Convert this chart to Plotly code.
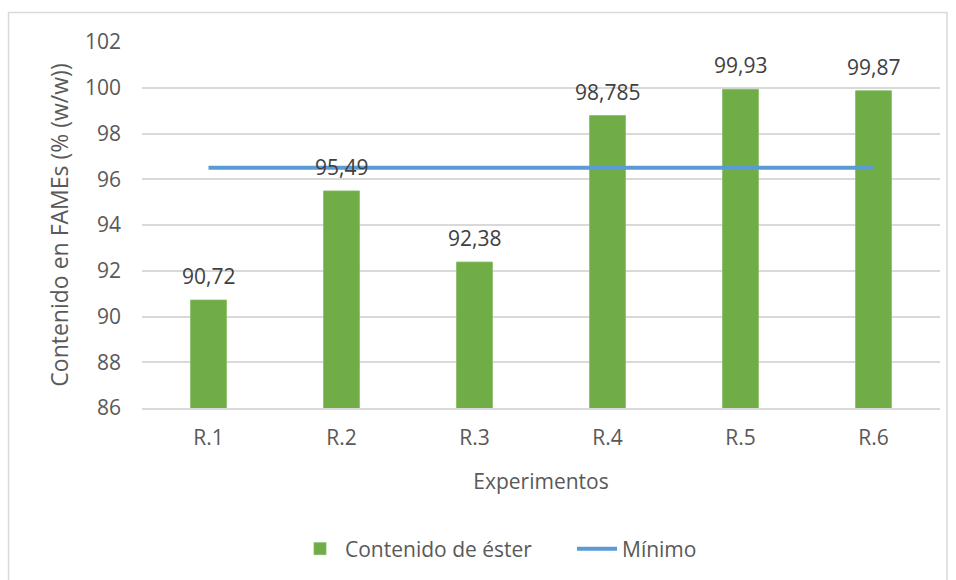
import plotly.graph_objects as go

# Experiment labels and measured ester content (% w/w)
experimentos = ["R.1", "R.2", "R.3", "R.4", "R.5", "R.6"]
contenido_ester = [90.72, 95.49, 92.38, 98.785, 99.93, 99.87]
minimo = [96.5, 96.5, 96.5, 96.5, 96.5, 96.5]

etiquetas = [str(v).replace(".", ",") for v in contenido_ester]

W, H = 956, 580
ML, MR, MT, MB = 142, 16, 42, 171
PW, PH = W - ML - MR, H - MT - MB

FONT = "Open Sans"
GRIS = "#595959"
FS = 21

fig = go.Figure()

fig.add_trace(go.Bar(
    x=experimentos, y=contenido_ester, name="Contenido de éster",
    marker=dict(color="#70AD47", line=dict(color="#86BC62", width=0.8)),
    width=0.27,
))

fig.add_trace(go.Scatter(
    x=experimentos, y=minimo, name="Mínimo", mode="lines",
    line=dict(color="#5B9BD5", width=4),
))

# value labels above each bar
for cat, val, txt in zip(experimentos, contenido_ester, etiquetas):
    fig.add_annotation(
        x=cat, y=val, text=txt, showarrow=False,
        yanchor="bottom", yshift=8,
        font=dict(family=FONT, size=FS, color="#404040"),
    )

# outer chart-area border
def px_x(px):
    return (px - ML) / PW

def px_y(py):
    return (H - MB - py) / PH

fig.add_shape(
    type="rect", xref="paper", yref="paper",
    x0=px_x(8.5), x1=px_x(947), y0=px_y(600), y1=px_y(12.5),
    line=dict(color="#D9D9D9", width=1.5), fillcolor="rgba(0,0,0,0)",
    layer="below",
)

fig.update_layout(
    width=W, height=H,
    margin=dict(l=ML, r=MR, t=MT, b=MB),
    paper_bgcolor="white", plot_bgcolor="white",
    font=dict(family=FONT, size=FS, color=GRIS),
    separators=",.",
    showlegend=True,
    legend=dict(
        orientation="h", x=px_x(295), xanchor="left",
        y=px_y(549), yanchor="middle",
        font=dict(family=FONT, size=FS, color=GRIS),
        itemwidth=40, traceorder="normal",
        entrywidth=222, entrywidthmode="pixels",
    ),
    xaxis=dict(
        title=dict(text="Experimentos", standoff=24,
                   font=dict(family=FONT, size=FS, color=GRIS)),
        showgrid=False, showline=True, linecolor="#D9D9D9", linewidth=1.5,
        ticks="", ticklabelstandoff=10, automargin=False,
        tickfont=dict(family=FONT, size=FS, color=GRIS),
    ),
    yaxis=dict(
        title=dict(text="Contenido en FAMEs (% (w/w))", standoff=9,
                   font=dict(family=FONT, size=23, color=GRIS)),
        range=[86, 102], dtick=2, tick0=86,
        showgrid=True, gridcolor="#D9D9D9", gridwidth=1.5,
        zeroline=False, showline=False, automargin=False,
        ticks="", ticklabelstandoff=20,
        tickfont=dict(family=FONT, size=FS, color=GRIS),
    ),
)

fig.write_html("out.html")
